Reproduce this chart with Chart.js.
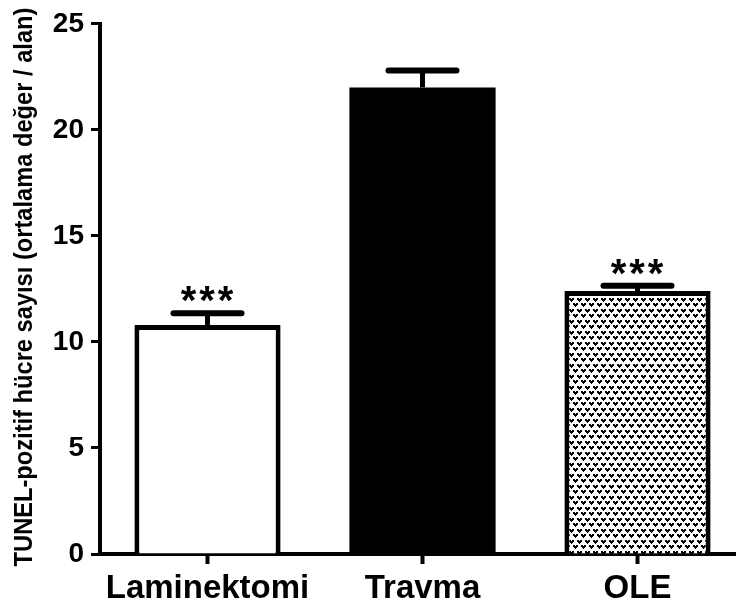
<!DOCTYPE html>
<html>
<head>
<meta charset="utf-8">
<script src="https://cdn.jsdelivr.net/npm/chart.js@4"></script>
<style>
  html, body { margin: 0; padding: 0; background: #fff; overflow: hidden; }
  #wrap { width: 736px; height: 607px; overflow: hidden; }
</style>
</head>
<body>
<div id="wrap"><canvas id="grafico" width="745" height="607"></canvas></div>
<script>
// Datos
const grupos = ['Laminektomi', 'Travma', 'OLE'];
const medias = [10.8, 22.0, 12.4];
const errores = [0.55, 0.8, 0.25];
const significancia = ['***', '', '***'];
const ticksY = [0, 5, 10, 15, 20, 25];
const tituloY = 'TUNEL-pozitif hücre sayısı (ortalama değer / alan)';

const fuente = '"Liberation Sans", Arial, sans-serif';

// Patrón de "v" para OLE
function crearPatron() {
  const c = document.createElement('canvas');
  c.width = 8; c.height = 11;
  const ctx = c.getContext('2d');
  ctx.fillStyle = '#fff';
  ctx.fillRect(0, 0, 8, 11);
  ctx.fillStyle = '#000';
  const v = (x, y) => {
    ctx.fillRect(x, y, 2, 1);
    ctx.fillRect(x + 3, y, 2, 1);
    ctx.fillRect(x, y + 1, 5, 1);
    ctx.fillRect(x + 1, y + 2, 3, 1);
    ctx.fillRect(x + 2, y + 3, 1, 1);
  };
  v(1, 1);
  v(5, 6);
  v(-3, 6);
  return ctx.createPattern(c, 'repeat');
}

// Barras de error, asteriscos y título del eje Y
const extras = {
  id: 'extras',
  afterDatasetsDraw(chart) {
    const ctx = chart.ctx;
    const meta = chart.getDatasetMeta(0);
    const y = chart.scales.y;
    ctx.save();
    ctx.strokeStyle = '#000';
    ctx.fillStyle = '#000';
    meta.data.forEach((bar, i) => {
      const top = y.getPixelForValue(medias[i]);
      const tope = y.getPixelForValue(medias[i] + errores[i]);
      const medio = 34;
      ctx.lineWidth = 5;
      ctx.lineCap = 'butt';
      ctx.beginPath();
      ctx.moveTo(bar.x, top);
      ctx.lineTo(bar.x, tope);
      ctx.stroke();
      ctx.lineWidth = 6;
      ctx.lineCap = 'round';
      ctx.beginPath();
      ctx.moveTo(bar.x - medio, tope);
      ctx.lineTo(bar.x + medio, tope);
      ctx.stroke();
      if (significancia[i]) {
        ctx.font = 'bold 40px ' + fuente;
        ctx.letterSpacing = '3px';
        ctx.textAlign = 'center';
        ctx.textBaseline = 'alphabetic';
        ctx.fillText(significancia[i], bar.x + 1, tope + 1);
        ctx.letterSpacing = '0px';
      }
    });
    // título vertical
    ctx.translate(32, 287);
    ctx.rotate(-Math.PI / 2);
    ctx.scale(0.91, 1);
    ctx.font = 'bold 26px ' + fuente;
    ctx.textAlign = 'center';
    ctx.textBaseline = 'alphabetic';
    ctx.fillText(tituloY, 0, 0);
    ctx.restore();
  }
};

new Chart(document.getElementById('grafico'), {
  type: 'bar',
  data: {
    labels: grupos,
    datasets: [{
      data: medias,
      backgroundColor: ['#ffffff', '#000000', crearPatron()],
      borderColor: '#000',
      borderWidth: [5, 0, 5],
      barPercentage: 0.68,
      categoryPercentage: 1
    }]
  },
  options: {
    responsive: false,
    animation: false,
    layout: { padding: { top: 21, right: 0, left: 0, bottom: 0 } },
    plugins: {
      legend: { display: false },
      tooltip: { enabled: false }
    },
    scales: {
      x: {
        grid: {
          offset: false,
          drawOnChartArea: false,
          drawTicks: true,
          tickLength: 10,
          tickWidth: 4,
          tickColor: '#000'
        },
        border: { color: '#000', width: 4 },
        ticks: {
          color: '#000',
          padding: 5,
          font: { family: fuente, size: 33, weight: 'bold' }
        },
        afterFit(scale) { scale.height = 53; }
      },
      y: {
        min: 0,
        max: 25,
        afterBuildTicks(scale) { scale.ticks = ticksY.map(v => ({ value: v })); },
        grid: {
          drawOnChartArea: false,
          drawTicks: true,
          tickLength: 9,
          tickWidth: 3,
          tickColor: '#000'
        },
        border: { color: '#000', width: 4 },
        ticks: {
          color: '#000',
          padding: 7,
          font: { family: fuente, size: 28, weight: 'bold' }
        },
        afterFit(scale) { scale.width = 100; }
      }
    }
  },
  plugins: [extras]
});
</script>
</body>
</html>
